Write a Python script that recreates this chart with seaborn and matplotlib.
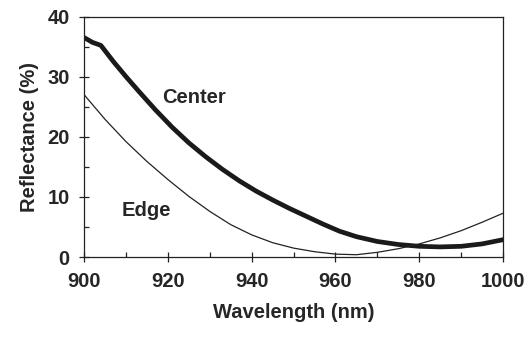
import matplotlib
matplotlib.use("Agg")
import matplotlib.pyplot as plt
from matplotlib.ticker import MultipleLocator
import seaborn as sns
import pandas as pd

center_wl = [900, 902, 904, 907, 910, 913, 917, 921, 925, 929, 933, 937, 941, 945,
             949, 953, 957, 961, 965, 970, 975, 980, 985, 990, 995, 1000]
center_r = [36.5, 35.7, 35.2, 32.5, 30.0, 27.6, 24.5, 21.6, 19.0, 16.7, 14.6, 12.7, 11.0, 9.5,
            8.1, 6.8, 5.5, 4.3, 3.4, 2.6, 2.1, 1.8, 1.7, 1.8, 2.2, 2.9]
edge_wl = [900, 905, 910, 915, 920, 925, 930, 935, 940, 945, 950, 955, 960, 965,
           970, 975, 980, 985, 990, 995, 1000]
edge_r = [27.0, 22.9, 19.2, 15.9, 12.9, 10.1, 7.6, 5.4, 3.7, 2.4, 1.5, 0.9, 0.5, 0.4,
          0.8, 1.4, 2.2, 3.2, 4.4, 5.8, 7.3]

x_ticks = [900, 920, 940, 960, 980, 1000]
y_ticks = [0, 10, 20, 30, 40]

sns.set_theme(style="ticks")
plt.rcParams['font.family'] = ['Liberation Sans', 'DejaVu Sans']

fig = plt.figure(figsize=(5.29, 3.37), dpi=100)
ax = fig.add_axes([0.159, 0.237, 0.792, 0.714])

center_df = pd.DataFrame({"wl": center_wl, "r": center_r})
edge_df = pd.DataFrame({"wl": edge_wl, "r": edge_r})
sns.lineplot(data=center_df, x="wl", y="r", ax=ax, color="#1a1a1a", linewidth=3.4)
sns.lineplot(data=edge_df, x="wl", y="r", ax=ax, color="#222222", linewidth=0.9)

ax.set_xlim(900, 1000)
ax.set_ylim(0, 40)
ax.set_xticks(x_ticks)
ax.set_yticks(y_ticks)
ax.xaxis.set_minor_locator(MultipleLocator(10))
ax.yaxis.set_minor_locator(MultipleLocator(5))
ax.tick_params(which="major", direction="inout", length=7, width=0.9, color="#222222",
               labelsize=14.5, pad=7)
ax.tick_params(which="minor", direction="in", length=3.5, width=0.9, color="#222222")
for lab in ax.get_xticklabels() + ax.get_yticklabels():
    lab.set_fontweight("bold")
for sp in ax.spines.values():
    sp.set_linewidth(0.9)
    sp.set_color("#222222")

ax.set_xlabel("Wavelength (nm)", fontsize=14.5, fontweight="bold", labelpad=9)
ax.set_ylabel("Reflectance (%)", fontsize=14.5, fontweight="bold", labelpad=6)

ax.text(926.3, 26.6, "Center", fontsize=14.5, fontweight="bold", ha="center", va="center")
ax.text(914.8, 7.7, "Edge", fontsize=14.5, fontweight="bold", ha="center", va="center")

fig.savefig("out.png", dpi=100)
